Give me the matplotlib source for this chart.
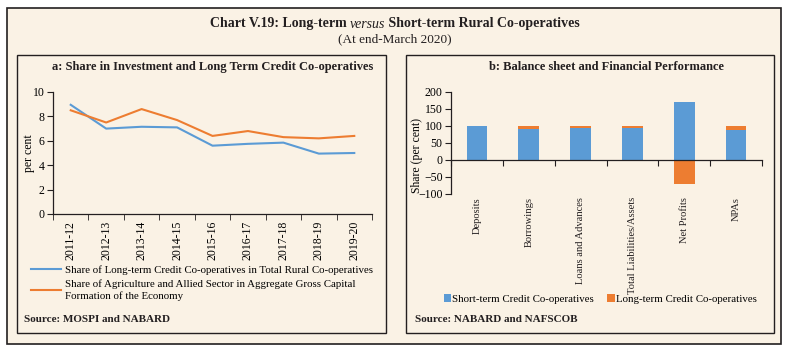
import matplotlib
matplotlib.use("Agg")
import matplotlib.pyplot as plt
from matplotlib.patches import Rectangle
from matplotlib.lines import Line2D
import numpy as np

# panel a data
years = ["2011-12", "2012-13", "2013-14", "2014-15", "2015-16",
         "2016-17", "2017-18", "2018-19", "2019-20"]
long_term_share = [8.95, 7.0, 7.15, 7.1, 5.6, 5.75, 5.85, 4.95, 5.0]
agri_gcf_share = [8.5, 7.5, 8.6, 7.7, 6.4, 6.8, 6.3, 6.2, 6.4]

# panel b data
items = ["Deposits", "Borrowings", "Loans and Advances",
         "Total Liabilities/Assets", "Net Profits", "NPAs"]
short_term = [99, 90, 95, 95, 170, 88]
long_term = [1, 10, 5, 5, -70, 12]

BG = "#FAF2E5"
BLUE = "#5B9BD5"
ORANGE = "#ED7D31"
INK = "#231F20"
SERIF = "Liberation Serif"

plt.rcParams["font.family"] = [SERIF, "DejaVu Serif"]

fig = plt.figure(figsize=(7.9, 3.51), dpi=100)
fig.patch.set_facecolor("white")
W, H = 790.0, 351.0


def box(x0, y0, x1, y1, fc, lw):
    fig.patches.append(Rectangle((x0 / W, 1 - y1 / H), (x1 - x0) / W, (y1 - y0) / H,
                                 transform=fig.transFigure, facecolor=fc,
                                 edgecolor=INK, linewidth=lw, zorder=-10))


box(7, 8, 781, 344, BG, 1.2)
box(17, 55, 386, 333, BG, 1.0)
box(406, 55, 774, 333, BG, 1.0)

# main title with italic "versus"
t1 = fig.text(0, 1 - 24 / H, "Chart V.19: Long-term ", fontsize=10, fontweight="bold",
              color=INK, va="center")
t2 = fig.text(0, 1 - 24 / H, "versus", fontsize=10, fontstyle="italic",
              color=INK, va="center")
t3 = fig.text(0, 1 - 24 / H, " Short-term Rural Co-operatives", fontsize=10,
              fontweight="bold", color=INK, va="center")
fig.text(0.5, 1 - 39 / H, "(At end-March 2020)", fontsize=9.5, color=INK,
         ha="center", va="center")
fig.canvas.draw()
r = fig.canvas.get_renderer()
ws = [t.get_window_extent(r).width for t in (t1, t2, t3)]
x = (W - sum(ws)) / 2
for t, w in zip((t1, t2, t3), ws):
    t.set_x(x / W)
    x += w

# ---- panel a ----
ax = fig.add_axes([53 / W, 1 - 214 / H, (372 - 53) / W, (214 - 92) / H])
ax.set_facecolor("none")
xs = np.arange(len(years))
ax.plot(xs, long_term_share, color=BLUE, lw=1.5)
ax.plot(xs, agri_gcf_share, color=ORANGE, lw=1.5)
ax.set_xlim(-0.5, len(years) - 0.5)
ax.set_ylim(0, 10)
ax.set_yticks(range(0, 11, 2))
ax.set_xticks(xs)
ax.set_xticklabels(years, rotation=90, fontsize=8.5)
ax.set_xticks(np.arange(-0.5, len(years), 1), minor=True)
ax.tick_params(axis="x", which="major", length=0, pad=5)
ax.tick_params(axis="x", which="minor", length=4, color=INK)
ax.tick_params(axis="y", labelsize=8.5, length=4, color=INK, pad=2)
for s in ("top", "right"):
    ax.spines[s].set_visible(False)
for s in ("left", "bottom"):
    ax.spines[s].set_color(INK)
    ax.spines[s].set_linewidth(0.9)
ax.set_ylabel("per cent", fontsize=8.5)
ax.yaxis.set_label_coords(-0.056, 0.5)
ax.set_title("a: Share in Investment and Long Term Credit Co-operatives",
             fontsize=9, fontweight="bold", color=INK, pad=16)

handles_a = [Line2D([], [], color=BLUE, lw=1.5), Line2D([], [], color=ORANGE, lw=1.5)]
fig.legend(handles_a,
           ["Share of Long-term Credit Co-operatives in Total Rural Co-operatives",
            "Share of Agriculture and Allied Sector in Aggregate Gross Capital\n"
            "Formation of the Economy"],
           loc="upper left", bbox_to_anchor=(31 / W, 1 - 265 / H), frameon=False,
           fontsize=7.8, handlelength=2.8, handletextpad=0.3, labelspacing=0.45,
           borderaxespad=0, borderpad=0)
fig.text(24 / W, 1 - 320 / H, "Source: MOSPI and NABARD", fontsize=8,
         fontweight="bold", color=INK, va="center")

# ---- panel b ----
bx = fig.add_axes([451 / W, 1 - 194 / H, (762 - 451) / W, (194 - 92) / H])
bx.set_facecolor("none")
pos = np.arange(len(items))
bx.bar(pos, short_term, width=0.4, color=BLUE, label="Short-term Credit Co-operatives")
lt_bottom = [s if l >= 0 else 0 for s, l in zip(short_term, long_term)]
bx.bar(pos, long_term, width=0.4, bottom=lt_bottom, color=ORANGE,
       label="Long-term Credit Co-operatives")
bx.set_xlim(-0.5, len(items) - 0.5)
bx.set_ylim(-100, 200)
bx.set_yticks(range(-100, 201, 50))
bx.spines["bottom"].set_position(("data", 0))
bx.set_xticks(np.arange(-0.5, len(items), 1))
bx.set_xticklabels([])
bx.tick_params(axis="x", length=4, color=INK)
bx.tick_params(axis="y", labelsize=8.5, length=4, color=INK, pad=2)
for s in ("top", "right"):
    bx.spines[s].set_visible(False)
for s in ("left", "bottom"):
    bx.spines[s].set_color(INK)
    bx.spines[s].set_linewidth(0.9)
for p, name in zip(pos, items):
    bx.text(p, -0.03, name, transform=bx.get_xaxis_transform(), rotation=90,
            ha="center", va="top", fontsize=7.6, color=INK)
bx.set_ylabel("Share (per cent)", fontsize=8.5)
bx.yaxis.set_label_coords(-0.09, 0.38)
bx.set_title("b: Balance sheet and Financial Performance",
             fontsize=9, fontweight="bold", color=INK, pad=16)
fig.legend(*bx.get_legend_handles_labels(), loc="center", ncol=2,
           bbox_to_anchor=(600 / W, 1 - 299 / H), frameon=False, fontsize=7.8,
           handlelength=0.7, handleheight=0.7, handletextpad=0.1, columnspacing=1.2,
           borderaxespad=0, borderpad=0)
fig.text(415 / W, 1 - 320 / H, "Source: NABARD and NAFSCOB", fontsize=8,
         fontweight="bold", color=INK, va="center")

fig.savefig("out.png", dpi=100, facecolor=fig.get_facecolor())
